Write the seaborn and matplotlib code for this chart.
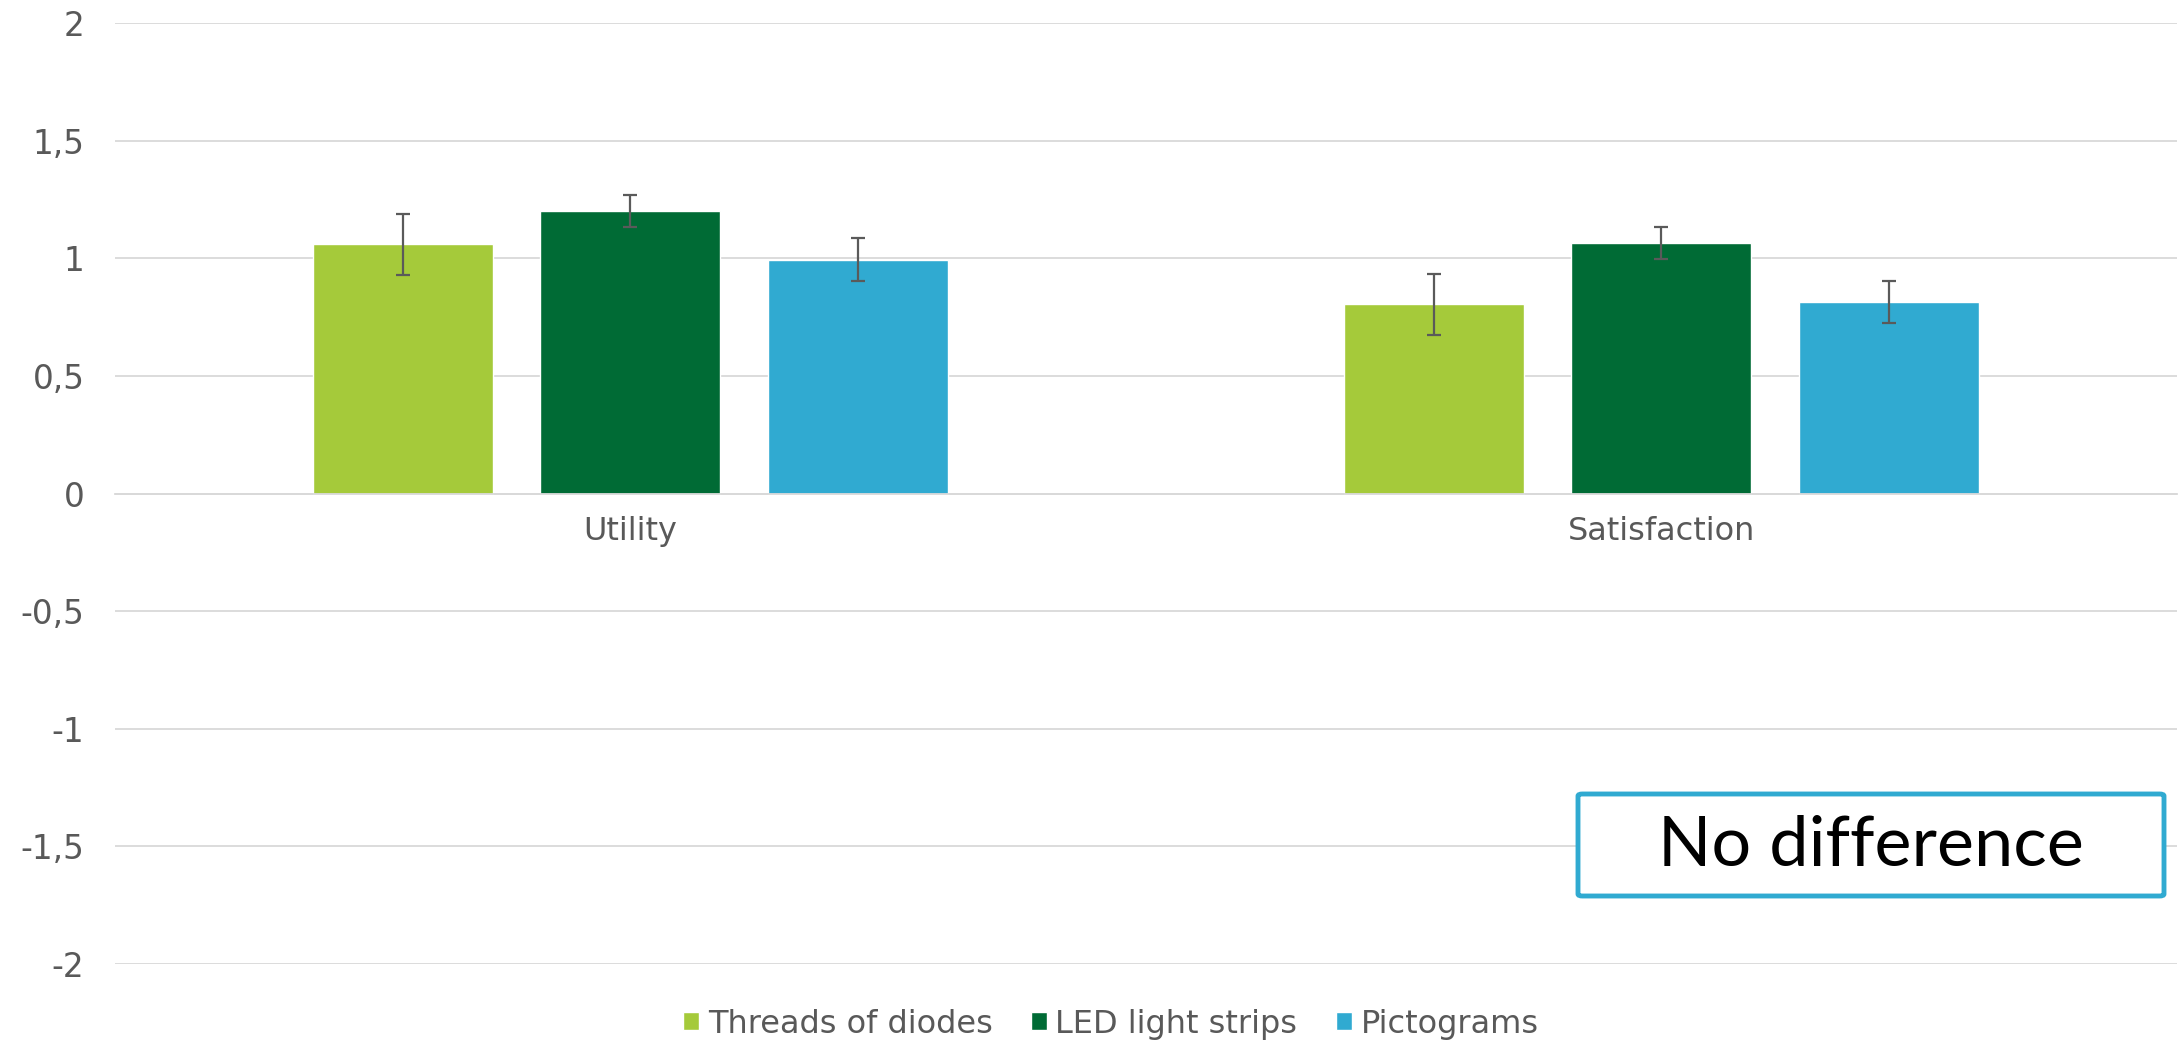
import pandas as pd
import numpy as np
from matplotlib import pyplot as plt
from matplotlib.patches import FancyBboxPatch
import seaborn as sns

# Data

categories = ['Utility', 'Satisfaction']
series = ['Threads of diodes', 'LED light strips', 'Pictograms']
values = {
    'Threads of diodes': [1.06, 0.805],
    'LED light strips': [1.20, 1.065],
    'Pictograms': [0.994, 0.815],
}
errors = {
    'Threads of diodes': [0.13, 0.13],
    'LED light strips': [0.068, 0.068],
    'Pictograms': [0.09, 0.09],
}
colors = ['#A5CA3A', '#006B35', '#30AAD1']
yticks = [-2, -1.5, -1, -0.5, 0, 0.5, 1, 1.5, 2]
ytick_labels = ['-2', '-1,5', '-1', '-0,5', '0', '0,5', '1', '1,5', '2']
note = 'No difference'

rows = []
for s in series:
    for c, v in zip(categories, values[s]):
        rows.append({'category': c, 'series': s, 'value': v})
df = pd.DataFrame(rows)

sns.set_style('white')
plt.rcParams['font.family'] = ['DejaVu Sans']
text_col = '#595959'

fig = plt.figure(figsize = (21.78, 10.45), dpi = 100)
ax = fig.add_axes([0.0528, 0.0775, 0.9467, 0.9005])

sns.barplot(data = df, x = 'category', y = 'value', hue = 'series', order = categories,
            hue_order = series, palette = colors, width = 0.663, gap = 0.21,
            errorbar = None, saturation = 1, ax = ax, zorder = 2)

# Error bars on top of each bar
for cont, s in zip(ax.containers, series):
    xs = [p.get_x() + p.get_width() / 2 for p in cont.patches]
    ys = [p.get_height() for p in cont.patches]
    ax.errorbar(xs, ys, yerr = errors[s], fmt = 'none', ecolor = '#5A5A5A',
                elinewidth = 1.6, capsize = 4.8, capthick = 1.6, zorder = 3)

ax.set_xlim(-0.5, 1.5)
ax.set_ylim(-2, 2)
ax.set_yticks(yticks)
ax.set_yticklabels(ytick_labels)
ax.yaxis.grid(True, color = '#D9D9D9', linewidth = 1.3, zorder = 0)
ax.set_axisbelow(True)
ax.set_xlabel('')
ax.set_ylabel('')
for sp in ['top', 'right', 'left']:
    ax.spines[sp].set_visible(False)
ax.spines['bottom'].set_position(('data', 0))
ax.spines['bottom'].set_color('#D9D9D9')
ax.spines['bottom'].set_linewidth(1.3)
ax.tick_params(axis = 'y', length = 0, pad = 22, labelsize = 23.5, labelcolor = text_col)
ax.tick_params(axis = 'x', length = 0, pad = 16, labelsize = 23, labelcolor = text_col)

# Legend along the bottom
handles, labels = ax.get_legend_handles_labels()
ax.get_legend().remove()
fig.legend(handles, labels, loc = 'center', bbox_to_anchor = (0.51, 0.02), ncol = 3,
           frameon = False, fontsize = 23, labelcolor = text_col, handlelength = 0.5,
           handleheight = 0.5, handletextpad = 0.27, columnspacing = 1.2)

# "No difference" box
box = FancyBboxPatch((1578 / 2178, 1 - 896 / 1045), (2164 - 1578) / 2178, (896 - 794) / 1045,
                     boxstyle = 'round,pad=0,rounding_size=0.002', transform = fig.transFigure,
                     facecolor = 'white', edgecolor = '#30AAD1', linewidth = 3.5, zorder = 5)
fig.patches.append(box)
fig.text(1871 / 2178, 1 - 847 / 1045, note, ha = 'center', va = 'center', fontsize = 50.5,
         family = 'Lato', color = 'black', zorder = 6)

plt.savefig('out.png', dpi = 100)
